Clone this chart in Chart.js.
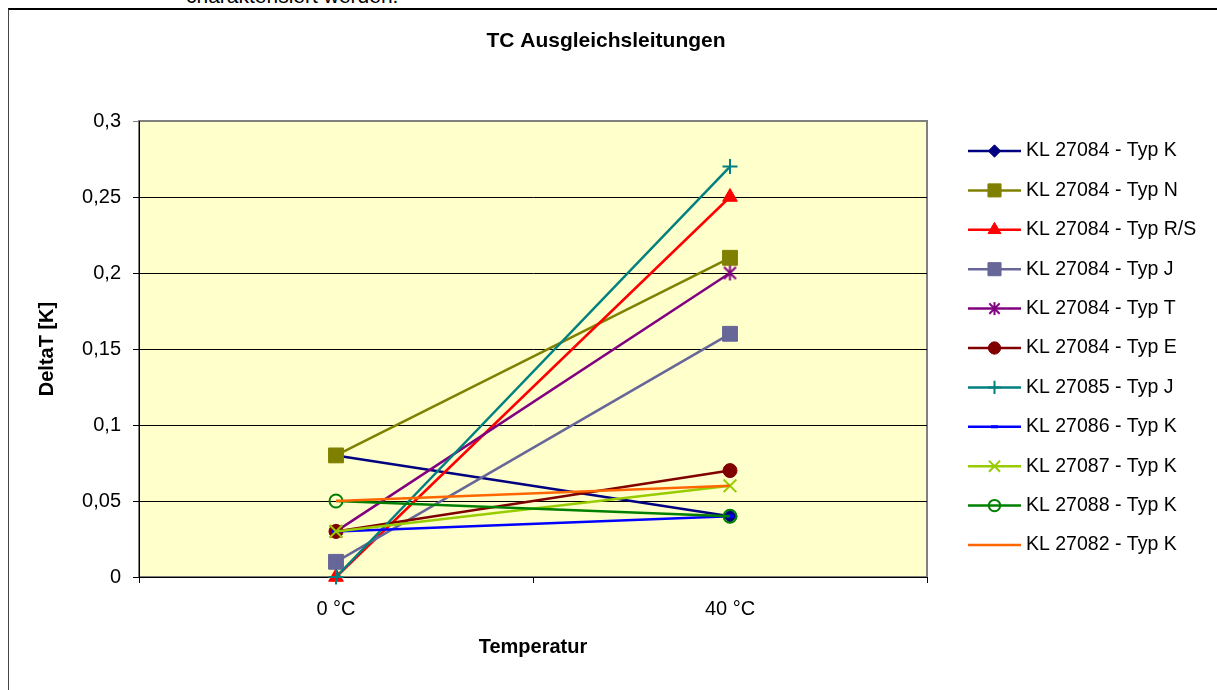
<!DOCTYPE html>
<html>
<head>
<meta charset="utf-8">
<title>TC Ausgleichsleitungen</title>
<script src="https://cdn.jsdelivr.net/npm/chart.js"></script>
<style>
  html, body { margin: 0; padding: 0; background: #fff; overflow: hidden; }
  #wrap { position: relative; width: 1217px; height: 690px; overflow: hidden; }
  #frame { position: absolute; left: 8px; top: 8px; width: 1300px; height: 800px;
           border-left: 1px solid #444; border-top: 2px solid #000; }
  #above { position: absolute; left: 186px; top: -16px; font: 21px "Liberation Sans", Arial, sans-serif;
           line-height: 24px; color: #000; white-space: nowrap; }
  canvas { position: absolute; left: 0; top: 0; }
</style>
</head>
<body>
<div id="wrap">
  <div id="above">charakterisiert werden.</div>
  <div id="frame"></div>
  <canvas id="tcChart" width="1217" height="690"></canvas>
</div>
<script>
// data
const categories = ['0 °C', '40 °C'];
const seriesNames = [
  'KL 27084 - Typ K',
  'KL 27084 - Typ N',
  'KL 27084 - Typ R/S',
  'KL 27084 - Typ J',
  'KL 27084 - Typ T',
  'KL 27084 - Typ E',
  'KL 27085 - Typ J',
  'KL 27086 - Typ K',
  'KL 27087 - Typ K',
  'KL 27088 - Typ K',
  'KL 27082 - Typ K'
];
const typK_27084 = [0.08, 0.04];
const typN_27084 = [0.08, 0.21];
const typRS_27084 = [0.00, 0.25];
const typJ_27084 = [0.01, 0.16];
const typT_27084 = [0.03, 0.20];
const typE_27084 = [0.03, 0.07];
const typJ_27085 = [0.00, 0.27];
const typK_27086 = [0.03, 0.04];
const typK_27087 = [0.03, 0.06];
const typK_27088 = [0.05, 0.04];
const typK_27082 = [0.05, 0.06];
const seriesValues = [typK_27084, typN_27084, typRS_27084, typJ_27084, typT_27084, typE_27084,
  typJ_27085, typK_27086, typK_27087, typK_27088, typK_27082];
const yTickLabels = ['0', '0,05', '0,1', '0,15', '0,2', '0,25', '0,3'];

// styles
const seriesColors = ['#000080', '#808000', '#FF0000', '#666699', '#800080', '#800000',
  '#008080', '#0000FF', '#99CC00', '#008000', '#FF6600'];

// excel's star marker: an x with a vertical bar through it
function asterisk(color, half) {
  const c = document.createElement('canvas');
  const s = Math.ceil(half * 2 + 4);
  c.width = s; c.height = s;
  const g = c.getContext('2d');
  const m = s / 2, d = half * 0.8;
  g.strokeStyle = color;
  g.lineWidth = 2;
  g.beginPath();
  g.moveTo(m, m - half); g.lineTo(m, m + half);
  g.moveTo(m - d, m - d); g.lineTo(m + d, m + d);
  g.moveTo(m - d, m + d); g.lineTo(m + d, m - d);
  g.stroke();
  return c;
}

const markers = [
  { style: 'rectRot', r: 7, bw: 1, fill: true },
  { style: 'rect', r: 10.5, bw: 1, fill: true },
  { style: 'triangle', r: 8.5, bw: 1, fill: true },
  { style: 'rect', r: 10.5, bw: 1, fill: true },
  { style: asterisk('#800080', 7.5), legendStyle: asterisk('#800080', 6.5), r: 7, bw: 2, fill: false },
  { style: 'circle', r: 7, bw: 1, fill: true },
  { style: 'cross', r: 7.5, bw: 2, fill: false },
  { style: 'line', r: 4, bw: 3, fill: true },
  { style: 'crossRot', r: 9, bw: 2, fill: false },
  { style: 'circle', r: 6.5, bw: 2, fill: false },
  { style: 'circle', r: 0, bw: 0, fill: false }
];

const FONT = '"Liberation Sans", Arial, sans-serif';

const datasets = seriesNames.map((name, i) => ({
  label: name,
  data: seriesValues[i],
  borderColor: seriesColors[i],
  backgroundColor: seriesColors[i],
  borderWidth: 2.5,
  pointStyle: markers[i].style,
  pointRadius: markers[i].r,
  pointHoverRadius: markers[i].r,
  pointBorderWidth: markers[i].bw,
  pointBorderColor: seriesColors[i],
  pointBackgroundColor: markers[i].fill ? seriesColors[i] : 'rgba(0,0,0,0)',
  tension: 0,
  clip: false,
  order: seriesNames.length - i   // later series on top, like Excel
}));

// yellow plot area + grey frame
const plotBack = {
  id: 'plotBack',
  beforeDraw(chart) {
    const a = chart.chartArea, ctx = chart.ctx;
    ctx.save();
    ctx.fillStyle = '#FFFFCC';
    ctx.fillRect(a.left, a.top, a.right - a.left, a.bottom - a.top);
    ctx.strokeStyle = '#808080';
    ctx.lineWidth = 2;
    ctx.strokeRect(a.left, a.top, a.right - a.left, a.bottom - a.top);
    ctx.restore();
  }
};

// title centred on the whole chart object
const topTitle = {
  id: 'topTitle',
  afterDraw(chart) {
    const ctx = chart.ctx;
    ctx.save();
    ctx.fillStyle = '#000';
    ctx.font = 'bold 21px ' + FONT;
    ctx.textAlign = 'center';
    ctx.textBaseline = 'alphabetic';
    ctx.fillText('TC Ausgleichsleitungen', 606, 47);
    ctx.restore();
  }
};

// excel style legend: line with marker, then text
const sideLegend = {
  id: 'sideLegend',
  afterDraw(chart) {
    const ctx = chart.ctx;
    ctx.save();
    chart.data.datasets.forEach((ds, i) => {
      const y = 151 + i * 39.4;
      ctx.strokeStyle = ds.borderColor;
      ctx.lineWidth = 2.5;
      ctx.beginPath();
      ctx.moveTo(968, y);
      ctx.lineTo(1021, y);
      ctx.stroke();
      if (ds.pointRadius > 0 && Chart.helpers && Chart.helpers.drawPoint) {
        ctx.fillStyle = ds.pointBackgroundColor;
        ctx.strokeStyle = ds.pointBorderColor;
        ctx.lineWidth = ds.pointBorderWidth;
        Chart.helpers.drawPoint(ctx, {
          pointStyle: markers[i].legendStyle || ds.pointStyle,
          radius: ds.pointRadius * 0.88,
          rotation: 0,
          borderWidth: ds.pointBorderWidth
        }, 994.5, y);
      }
      ctx.fillStyle = '#000';
      ctx.font = '19.5px ' + FONT;
      ctx.textAlign = 'left';
      ctx.textBaseline = 'middle';
      ctx.fillText(ds.label, 1026, y);
    });
    ctx.restore();
  }
};

const ctx = document.getElementById('tcChart');
new Chart(ctx, {
  type: 'line',
  data: {
    labels: categories,
    datasets: datasets
  },
  options: {
    responsive: false,
    animation: false,
    events: [],
    layout: { padding: { left: 35, right: 290, top: 121, bottom: 31 } },
    plugins: {
      legend: { display: false },
      title: { display: false },
      tooltip: { enabled: false }
    },
    scales: {
      x: {
        type: 'category',
        offset: true,
        afterFit: (scale) => { scale.height = 82; },
        grid: { offset: true, drawOnChartArea: false, drawTicks: true, tickLength: 6, color: '#000', lineWidth: 1 },
        border: { display: true, color: '#000', width: 1 },
        ticks: { color: '#000', font: { family: FONT, size: 20 }, padding: 14, maxRotation: 0 },
        title: { display: true, text: 'Temperatur', color: '#000', font: { family: FONT, size: 20, weight: 'bold' }, padding: 0 }
      },
      y: {
        min: 0,
        max: 0.3,
        afterFit: (scale) => { scale.width = 104; },
        grid: {
          color: (c) => (c.tick && c.tick.value >= 0.3 ? '#808080' : '#000'),
          lineWidth: 1,
          drawTicks: true,
          tickLength: 6
        },
        border: { display: true, color: '#000', width: 1 },
        ticks: {
          stepSize: 0.05,
          color: '#000',
          font: { family: FONT, size: 20 },
          padding: 12,
          callback: (value) => yTickLabels[Math.round(value / 0.05)]
        },
        title: { display: true, text: 'DeltaT [K]', color: '#000', font: { family: FONT, size: 20, weight: 'bold' }, padding: 0 }
      }
    }
  },
  plugins: [plotBack, topTitle, sideLegend]
});
</script>
</body>
</html>
